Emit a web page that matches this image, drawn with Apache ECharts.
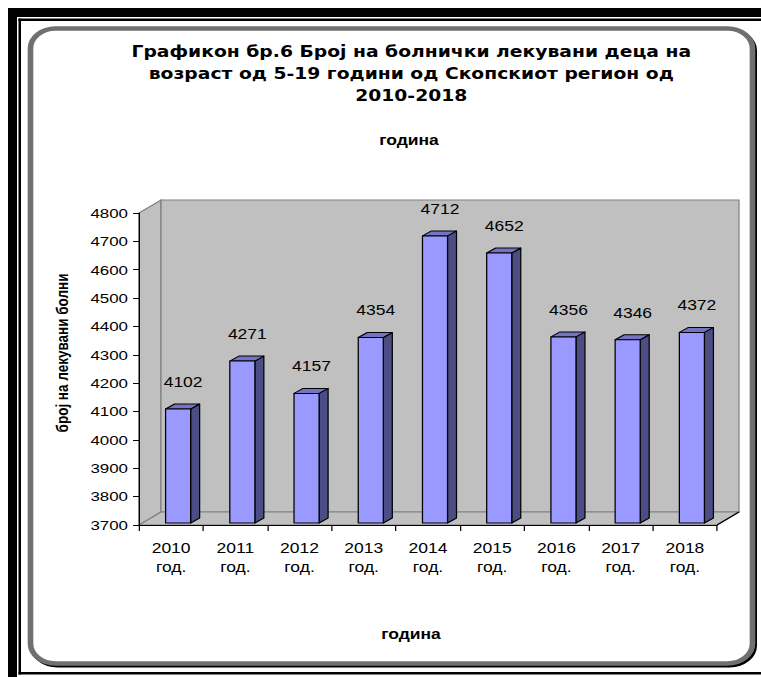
<!DOCTYPE html>
<html>
<head>
<meta charset="utf-8">
<script src="https://cdn.jsdelivr.net/npm/echarts@6/dist/echarts.min.js"></script>
<style>
  html, body { margin: 0; padding: 0; background: #fff; overflow: hidden; }
  #chart { width: 608.8px; height: 677px; transform: scaleX(1.25); transform-origin: 0 0; }
</style>
</head>
<body>
<div id="chart"></div>
<script>
// Hospital-treated children aged 5-19, Skopje region, 2010-2018
const years = ['2010', '2011', '2012', '2013', '2014', '2015', '2016', '2017', '2018'];
const yearSuffix = 'год.';
const patients = [4102, 4271, 4157, 4354, 4712, 4652, 4356, 4346, 4372];
const axisMin = 3700;
const axisMax = 4800;
const axisStep = 100;

const titleLines = [
  'Графикон бр.6 Број на болнички лекувани деца на',
  'возраст од 5-19 години од Скопскиот регион од',
  '2010-2018'
];
const subTitle = 'година';
const xName = 'година';
const yName = 'број на лекувани болни';

// The whole drawing is widened by SX through CSS (wide, Excel-like lettering);
// horizontal pixel measures are divided by SX so they land where intended.
const SX = 1.25;
const W = 761, H = 677;
const hx = (px) => px / SX;

// pseudo-3D look
const WALL_DX = hx(22), WALL_DY = -13;   // depth of the plot box
const BAR_DX = hx(9), BAR_DY = -5;       // depth of each column
const BAR_SHIFT_X = hx(7), BAR_SHIFT_Y = -2;
const WALL_FILL = '#c0c0c0', WALL_EDGE = '#808080';
const FRONT = '#9999ff', SIDE = '#4d4d85', TOP = '#7474c2';
const FONT = "'Liberation Sans', Arial, sans-serif";

const chart = echarts.init(document.getElementById('chart'), null, { renderer: 'svg', width: W / SX, height: H });

function renderWalls(params, api) {
  const cs = params.coordSys;
  const x0 = cs.x, x1 = cs.x + cs.width, yT = cs.y, yB = cs.y + cs.height;
  const wallStyle = { fill: WALL_FILL, stroke: WALL_EDGE, lineWidth: 1 };
  return {
    type: 'group',
    children: [
      { type: 'polygon', shape: { points: [[x0, yT], [x0 + WALL_DX, yT + WALL_DY], [x0 + WALL_DX, yB + WALL_DY], [x0, yB]] }, style: wallStyle },
      { type: 'rect', shape: { x: x0 + WALL_DX, y: yT + WALL_DY, width: cs.width, height: cs.height }, style: wallStyle },
      { type: 'polygon', shape: { points: [[x0, yB], [x0 + WALL_DX, yB + WALL_DY], [x1 + WALL_DX, yB + WALL_DY], [x1, yB]] }, style: wallStyle },
      { type: 'line', shape: { x1: x1, y1: yB, x2: x1 + WALL_DX, y2: yB + WALL_DY }, style: { stroke: '#000', lineWidth: 1 } }
    ]
  };
}

function renderColumn(params, api) {
  const idx = api.value(0);
  const v = api.value(1);
  const top = api.coord([idx, v]);
  const base = api.coord([idx, axisMin]);
  const band = api.size([1, 0])[0];
  const w = band * 0.39;
  const fx = top[0] + BAR_SHIFT_X - w / 2;
  const fy = top[1] + BAR_SHIFT_Y;
  const by = base[1] + BAR_SHIFT_Y;
  const edge = { stroke: '#000', lineWidth: 1, lineJoin: 'round' };
  return {
    type: 'group',
    children: [
      { type: 'polygon', shape: { points: [[fx + w, fy], [fx + w + BAR_DX, fy + BAR_DY], [fx + w + BAR_DX, by + BAR_DY], [fx + w, by]] }, style: Object.assign({ fill: SIDE }, edge) },
      { type: 'polygon', shape: { points: [[fx, fy], [fx + BAR_DX, fy + BAR_DY], [fx + w + BAR_DX, fy + BAR_DY], [fx + w, fy]] }, style: Object.assign({ fill: TOP }, edge) },
      { type: 'rect', shape: { x: fx, y: fy, width: w, height: by - fy }, style: Object.assign({ fill: FRONT }, edge) },
      { type: 'text', style: { text: String(v), x: fx + w / 2 + hx(5), y: fy - 27, align: 'center', verticalAlign: 'middle', font: '14px ' + FONT, fill: '#000' } }
    ]
  };
}

chart.setOption({
  animation: false,
  backgroundColor: '#fff',
  title: {
    text: titleLines.join('\n'),
    left: hx(405), top: 36, textAlign: 'center',
    textStyle: { fontFamily: "'DejaVu Sans', Verdana, sans-serif", fontWeight: 'bold', fontSize: 15, lineHeight: 22, color: '#000' }
  },
  graphic: [
    // double black outer border
    { type: 'rect', z: -10, silent: true, shape: { x: hx(8), y: 8, width: W, height: 9 }, style: { fill: '#000' } },
    { type: 'rect', z: -10, silent: true, shape: { x: hx(8), y: 8, width: hx(9), height: H }, style: { fill: '#000' } },
    { type: 'rect', z: -10, silent: true, shape: { x: hx(18.5), y: 18.5, width: W, height: 2.5 }, style: { fill: '#000' } },
    { type: 'rect', z: -10, silent: true, shape: { x: hx(18.5), y: 18.5, width: hx(2.5), height: 656 }, style: { fill: '#000' } },
    { type: 'rect', z: -10, silent: true, shape: { x: hx(18.5), y: 672, width: W, height: 2.5 }, style: { fill: '#000' } },
    // rounded chart-area frame with a dark drop edge
    { type: 'rect', z: -9, silent: true, shape: { x: hx(32.5), y: 30.5, width: hx(722), height: 635, r: 20 }, style: { fill: 'none', stroke: '#000', lineWidth: 4 } },
    { type: 'rect', z: -8, silent: true, shape: { x: hx(30.5), y: 28.5, width: hx(722), height: 635, r: 20 }, style: { fill: '#fff', stroke: '#707070', lineWidth: 4.5 } },
    // sub-heading and axis names
    { type: 'text', z: 5, style: { text: subTitle, x: hx(409), y: 140, align: 'center', verticalAlign: 'middle', font: 'bold 14px ' + FONT, fill: '#000' } },
    { type: 'text', z: 5, style: { text: xName, x: hx(411), y: 634, align: 'center', verticalAlign: 'middle', font: 'bold 14px ' + FONT, fill: '#000' } },
    { type: 'text', z: 5, x: hx(62), y: 353, rotation: Math.PI / 2, style: { text: yName, x: 0, y: 0, align: 'center', verticalAlign: 'middle', font: 'bold 13.5px ' + FONT, fill: '#000' } }
  ],
  grid: { left: hx(139), top: 213, width: hx(578), height: 312, containLabel: false },
  xAxis: {
    type: 'category',
    data: years,
    z: 10,
    boundaryGap: true,
    axisLine: { show: true, lineStyle: { color: '#000', width: 1 } },
    axisTick: { show: true, length: 6, lineStyle: { color: '#000' } },
    axisLabel: {
      formatter: (y) => y + '\n' + yearSuffix,
      fontFamily: FONT, fontSize: 14, lineHeight: 19, color: '#000', margin: 14
    },
    splitLine: { show: false }
  },
  yAxis: {
    type: 'value',
    min: axisMin, max: axisMax, interval: axisStep,
    z: 10,
    axisLine: { show: true, lineStyle: { color: '#000', width: 1 } },
    axisTick: { show: true, length: hx(6), lineStyle: { color: '#000' } },
    axisLabel: { formatter: (v) => String(v), fontFamily: FONT, fontSize: 13.5, color: '#000', margin: hx(11) },
    splitLine: { show: false }
  },
  series: [
    {
      type: 'custom',
      z: 1,
      silent: true,
      clip: false,
      renderItem: renderWalls,
      data: [[0, axisMin]]
    },
    {
      type: 'custom',
      z: 2,
      clip: false,
      renderItem: renderColumn,
      encode: { x: 0, y: 1 },
      data: patients.map((v, i) => [i, v])
    }
  ]
});
</script>
</body>
</html>
